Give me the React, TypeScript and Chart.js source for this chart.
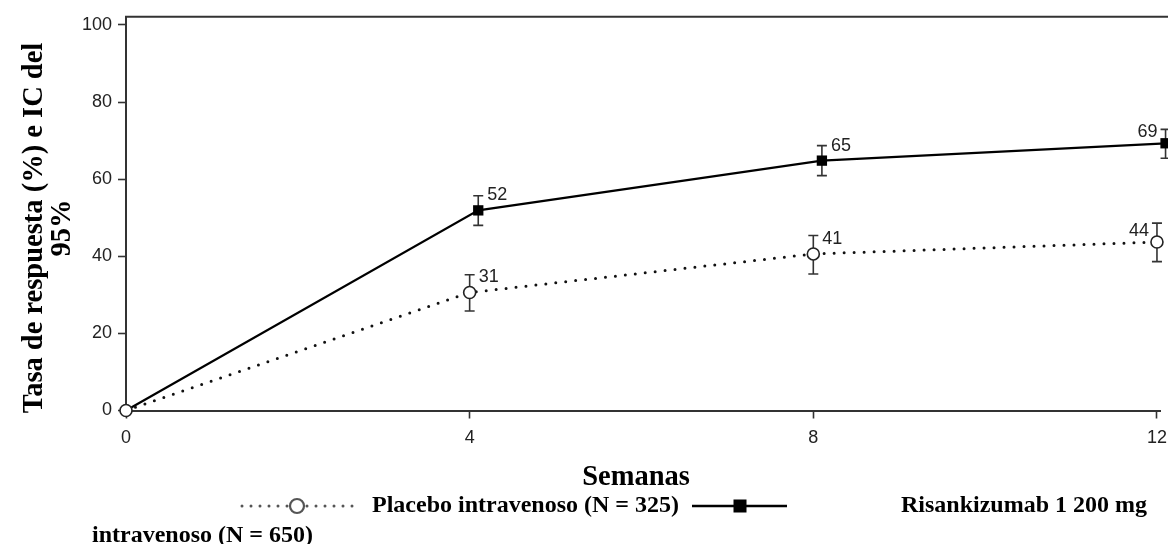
import { useEffect, useRef } from "react";
import { Chart, registerables } from "chart.js";

Chart.register(...registerables);

// ---- data ----
const weeks = [0, 4, 8, 12];
const xTicks = [0, 4, 8, 12];
const yTicks = [0, 20, 40, 60, 80, 100];

const placeboRate = [0, 30.6, 40.6, 43.7];
const placeboLow = [0, 25.8, 35.4, 38.6];
const placeboHigh = [0, 35.2, 45.4, 48.6];
const placeboLabels = ["", "31", "41", "44"];

const risaRate = [0, 51.9, 64.8, 69.3];
const risaLow = [0, 48.0, 60.9, 65.4];
const risaHigh = [0, 55.7, 68.7, 72.9];
const risaLabels = ["", "52", "65", "69"];
const risaDodge = 0.1;

const labelSide = ["", "right", "right", "left"];

const yTitle = ["Tasa de respuesta (%) e IC del", "95%"];
const xTitle = "Semanas";
const placeboName = "Placebo intravenoso (N = 325)";
const risaName1 = "Risankizumab 1 200 mg";
const risaName2 = "intravenoso (N = 650)";

const SERIF = '"Liberation Serif", "DejaVu Serif", serif';
const SANS = '"Liberation Sans", Arial, sans-serif';
const AXIS = "#333";
const TXT = "#222";

const lowArr = [placeboLow, risaLow];
const highArr = [placeboHigh, risaHigh];
const lblArr = [placeboLabels, risaLabels];

const decorPlugin = {
  id: "decor",
  beforeDatasetsDraw(chart: any) {
    const ctx = chart.ctx;
    const y = chart.scales.y;
    ctx.save();
    ctx.strokeStyle = AXIS;
    ctx.lineWidth = 1.6;
    for (let d = 0; d < 2; d++) {
      const meta = chart.getDatasetMeta(d);
      meta.data.forEach((pt: any, i: number) => {
        if (i === 0) return;
        const x = pt.x;
        const yl = y.getPixelForValue(lowArr[d][i]);
        const yh = y.getPixelForValue(highArr[d][i]);
        ctx.beginPath();
        ctx.moveTo(x, yl);
        ctx.lineTo(x, yh);
        ctx.moveTo(x - 5, yl);
        ctx.lineTo(x + 5, yl);
        ctx.moveTo(x - 5, yh);
        ctx.lineTo(x + 5, yh);
        ctx.stroke();
      });
    }
    ctx.restore();
  },
  afterDatasetsDraw(chart: any) {
    const ctx = chart.ctx;
    const area = chart.chartArea;
    const xs = chart.scales.x;
    ctx.save();
    // top border
    ctx.strokeStyle = AXIS;
    ctx.lineWidth = 2;
    ctx.beginPath();
    ctx.moveTo(area.left - 1, area.top);
    ctx.lineTo(chart.width, area.top);
    ctx.stroke();

    // x tick labels
    ctx.fillStyle = TXT;
    ctx.font = `18px ${SANS}`;
    ctx.textAlign = "center";
    ctx.textBaseline = "middle";
    xTicks.forEach((v) => {
      ctx.fillText(String(v), xs.getPixelForValue(v), area.bottom + 27.5);
    });

    // data labels
    for (let d = 0; d < 2; d++) {
      const meta = chart.getDatasetMeta(d);
      meta.data.forEach((pt: any, i: number) => {
        const t = lblArr[d][i];
        if (!t) return;
        if (labelSide[i] === "right") {
          ctx.textAlign = "left";
          ctx.fillText(t, pt.x + 9, pt.y - 15);
        } else {
          ctx.textAlign = "right";
          ctx.fillText(t, pt.x - 8, pt.y - 11);
        }
      });
    }

    // y title
    ctx.fillStyle = "#000";
    ctx.font = `bold 28.5px ${SERIF}`;
    ctx.textAlign = "center";
    ctx.textBaseline = "middle";
    const cy = 228;
    const cxs = [35, 63];
    yTitle.forEach((line, k) => {
      ctx.save();
      ctx.translate(cxs[k], cy);
      ctx.rotate(-Math.PI / 2);
      ctx.fillText(line, 0, 0);
      ctx.restore();
    });

    // x title
    ctx.fillText(xTitle, 636, 478);

    // legend
    const ly = 506;
    ctx.strokeStyle = "#555";
    ctx.lineWidth = 3;
    ctx.lineCap = "round";
    ctx.setLineDash([0, 9]);
    ctx.beginPath();
    ctx.moveTo(242, ly);
    ctx.lineTo(288, ly);
    ctx.moveTo(307, ly);
    ctx.lineTo(354, ly);
    ctx.stroke();
    ctx.setLineDash([]);
    ctx.lineWidth = 2.2;
    ctx.strokeStyle = "#555";
    ctx.fillStyle = "#fff";
    ctx.beginPath();
    ctx.arc(297, ly, 7, 0, Math.PI * 2);
    ctx.fill();
    ctx.stroke();

    ctx.strokeStyle = "#000";
    ctx.lineCap = "butt";
    ctx.lineWidth = 2.5;
    ctx.beginPath();
    ctx.moveTo(692, ly);
    ctx.lineTo(787, ly);
    ctx.stroke();
    ctx.fillStyle = "#000";
    ctx.fillRect(740 - 6.5, ly - 6.5, 13, 13);

    ctx.font = `bold 24px ${SERIF}`;
    ctx.textAlign = "left";
    ctx.fillText(placeboName, 372, ly);
    ctx.fillText(risaName1, 901, ly);
    ctx.fillText(risaName2, 92, 536);
    ctx.restore();
  },
};

export default function App() {
  const ref = useRef<HTMLCanvasElement | null>(null);

  useEffect(() => {
    if (!ref.current) return;
    const chart = new Chart(ref.current, {
      type: "line",
      data: {
        datasets: [
          {
            label: placeboName,
            data: weeks.map((w, i) => ({ x: w, y: placeboRate[i] })),
            borderColor: "#111",
            borderWidth: 3,
            borderDash: [0, 10],
            borderCapStyle: "round",
            pointStyle: "circle",
            pointRadius: 6,
            pointBorderWidth: 1.6,
            pointBorderColor: "#222",
            pointBackgroundColor: "#fff",
            tension: 0,
            clip: false,
          },
          {
            label: risaName1 + " " + risaName2,
            data: weeks.map((w, i) => ({ x: w === 0 ? w : w + risaDodge, y: risaRate[i] })),
            borderColor: "#000",
            borderWidth: 2.2,
            pointStyle: "rect",
            pointRadius: weeks.map((w) => (w === 0 ? 0 : 7.3)),
            pointBorderWidth: 0,
            pointBackgroundColor: "#000",
            tension: 0,
            clip: false,
          },
        ] as any,
      },
      options: {
        animation: false,
        responsive: true,
        maintainAspectRatio: false,
        layout: { padding: { top: 15.5, left: 0, right: 0, bottom: 0 } },
        plugins: {
          legend: { display: false },
          tooltip: { enabled: false },
        },
        scales: {
          x: {
            type: "linear",
            min: 0,
            max: 12.04,
            afterBuildTicks: (s: any) => {
              s.ticks = xTicks.map((v) => ({ value: v }));
            },
            afterFit: (s: any) => {
              s.height = 133.5;
            },
            grid: {
              drawOnChartArea: false,
              drawTicks: true,
              tickLength: 8,
              tickWidth: 1.6,
              tickColor: AXIS,
            },
            border: { display: true, color: AXIS, width: 2 },
            ticks: {
              display: false,
              autoSkip: false,
            },
          },
          y: {
            type: "linear",
            min: 0,
            max: 102.1,
            afterBuildTicks: (s: any) => {
              s.ticks = yTicks.map((v) => ({ value: v }));
            },
            afterFit: (s: any) => {
              s.width = 126;
            },
            grid: {
              drawOnChartArea: false,
              drawTicks: true,
              tickLength: 8,
              tickWidth: 1.6,
              tickColor: AXIS,
            },
            border: { display: true, color: AXIS, width: 2 },
            ticks: {
              color: TXT,
              font: { family: SANS, size: 18 },
              padding: 6,
              autoSkip: false,
            },
          },
        },
      } as any,
      plugins: [decorPlugin],
    });
    return () => chart.destroy();
  }, []);

  return (
    <div style={{ position: "absolute", left: 0, top: 0, width: 1168, height: 544 }}>
      <canvas ref={ref} />
    </div>
  );
}
